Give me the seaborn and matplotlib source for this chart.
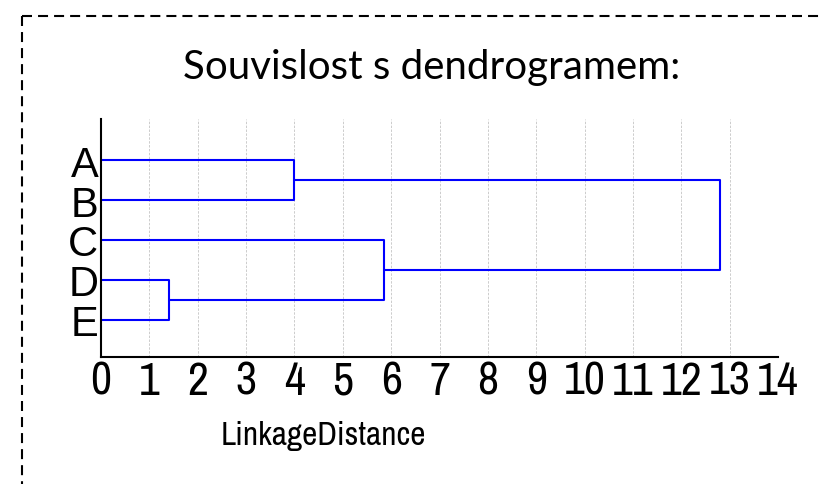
import numpy as np
import pandas as pd
import matplotlib
matplotlib.use("Agg")
import matplotlib.pyplot as plt
import seaborn as sns
from matplotlib.lines import Line2D
from matplotlib.ticker import MultipleLocator, FixedLocator

# ---- data ----
title = "Souvislost s dendrogramem:"
x_label = "LinkageDistance"
leaves = ["A", "B", "C", "D", "E"]
merge_left = ["A", "D", "C", "AB"]
merge_right = ["B", "E", "DE", "CDE"]
merge_name = ["AB", "DE", "CDE", "ABCDE"]
merge_height = [4.0, 1.4, 5.85, 12.8]
x_ticks = list(range(0, 15))

# ---- build dendrogram segments ----
nodes = {name: (0.0, float(i + 1)) for i, name in enumerate(leaves)}
rows = []
for l, r, n, h in zip(merge_left, merge_right, merge_name, merge_height):
    lx, ly = nodes[l]
    rx, ry = nodes[r]
    pts = [(lx, ly), (h, ly), (h, ry), (rx, ry)]
    for k, (px, py) in enumerate(pts):
        rows.append({"merge": n, "order": k, "dist": px, "pos": py})
    nodes[n] = (h, (ly + ry) / 2)
df = pd.DataFrame(rows)

sns.set_style("white")
plt.rcParams["font.family"] = ["Liberation Sans", "DejaVu Sans"]
narrow = ["Archivo Narrow", "Liberation Sans", "DejaVu Sans"]

fig = plt.figure(figsize=(8.21, 4.85), dpi=100)
ax = fig.add_axes([101 / 821, 1 - 358 / 485, (778 - 101) / 821, (358 - 120) / 485])

sns.lineplot(data=df, x="dist", y="pos", units="merge", estimator=None,
             sort=False, color="#0000ff", linewidth=1.5, ax=ax)

ax.set_xlim(0, 14)
ax.set_ylim(5.925, -0.025)

# grid
ax.xaxis.set_major_locator(FixedLocator(x_ticks))
ax.xaxis.set_minor_locator(MultipleLocator(0.2))
ax.grid(axis="x", which="major", color="#cccccc", linestyle=(0, (2.5, 1.5)), linewidth=0.7)
ax.grid(axis="y", visible=False)
glines = ax.xaxis.get_gridlines()
glines[0].set_visible(False)
glines[-1].set_visible(False)

for s in ["top", "right"]:
    ax.spines[s].set_visible(False)
for s in ["left", "bottom"]:
    ax.spines[s].set_color("black")
    ax.spines[s].set_linewidth(1.5)

ax.set_xticklabels([str(t) for t in x_ticks], family=narrow, fontsize=33)
ax.tick_params(axis="x", which="major", direction="in", length=4, width=1.2, pad=2, colors="black")
ax.tick_params(axis="x", which="minor", direction="in", length=1.8, width=1.0, colors="black")

ax.set_yticks(range(1, len(leaves) + 1))
ax.set_yticklabels(leaves, fontsize=30)
ax.yaxis.set_minor_locator(FixedLocator([-0.025]))
ax.tick_params(axis="y", which="major", direction="in", length=3, width=1.2, pad=2, colors="black")
ax.tick_params(axis="y", which="minor", direction="in", length=4, width=1.2)

ax.set_ylabel("")
ax.set_xlabel(x_label, family=narrow, fontsize=24, color="black")
ax.xaxis.label.set_va("center")
ax.xaxis.set_label_coords((323 - 101) / 677, (358 - 436) / 238)

fig.text(432 / 821, 1 - 68 / 485, title, ha="center", va="center",
         family=["Lato", "DejaVu Sans"], fontsize=29, color="black")

# dashed outer frame
lw = 1.5
fig.add_artist(Line2D([22 / 821, 1.01], [1 - 17 / 485] * 2, transform=fig.transFigure,
                      color="black", linewidth=lw, dashes=(4.8, 2.9)))
fig.add_artist(Line2D([22 / 821] * 2, [1 - 17 / 485, -0.01], transform=fig.transFigure,
                      color="black", linewidth=lw, dashes=(4.8, 2.9)))

fig.savefig("out.png", dpi=100)
